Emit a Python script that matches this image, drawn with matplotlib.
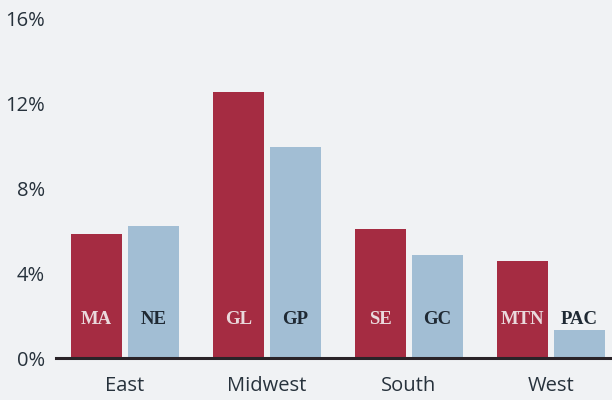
import matplotlib
matplotlib.use("Agg")
import matplotlib.pyplot as plt
import numpy as np

# data
regions = ["East", "Midwest", "South", "West"]
left_codes = ["MA", "GL", "SE", "MTN"]
right_codes = ["NE", "GP", "GC", "PAC"]
left_vals = [5.85, 12.55, 6.08, 4.58]
right_vals = [6.23, 9.95, 4.86, 1.32]
yticks = [0, 4, 8, 12, 16]

bg = "#f0f2f4"
red = "#a52c42"
blue = "#a2bed4"
ink = "#27323c"

fig = plt.figure(figsize=(6.12, 4.0), dpi=100, facecolor=bg)
ax = fig.add_axes([56 / 612, 42 / 400, 1 - 56 / 612, (358 - 19) / 400])
ax.set_facecolor(bg)

x = np.arange(len(regions))
w = 0.359
off = 0.2007
ax.bar(x - off, left_vals, width=w, color=red, zorder=2)
ax.bar(x + off, right_vals, width=w, color=blue, zorder=2)

label_y = 1.8
for xi, code in zip(x, left_codes):
    ax.text(xi - off, label_y, code, ha="center", va="center", color="#ead9dc",
            fontsize=13.5, fontweight="bold", family="Liberation Serif", zorder=3)
for xi, code in zip(x, right_codes):
    ax.text(xi + off, label_y, code, ha="center", va="center", color="#1f2933",
            fontsize=13.5, fontweight="bold", family="Liberation Serif", zorder=3)

ax.set_xlim(-0.486, 3.43)
ax.set_ylim(0, 16)
ax.set_yticks(yticks)
ax.set_yticklabels([f"{t}%" for t in yticks])
ax.set_xticks(x)
ax.set_xticklabels(regions)

for s in ["top", "right", "left"]:
    ax.spines[s].set_visible(False)
ax.spines["bottom"].set_color("#2a2328")
ax.spines["bottom"].set_linewidth(2.2)
ax.spines["bottom"].set_zorder(4)

ax.tick_params(axis="y", length=0, pad=8, labelsize=14.5, labelcolor=ink)
ax.tick_params(axis="x", length=0, pad=13, labelsize=14.5, labelcolor=ink)
for lab in ax.get_xticklabels() + ax.get_yticklabels():
    lab.set_family("Open Sans")

fig.savefig("out.png", dpi=100, facecolor=bg)
